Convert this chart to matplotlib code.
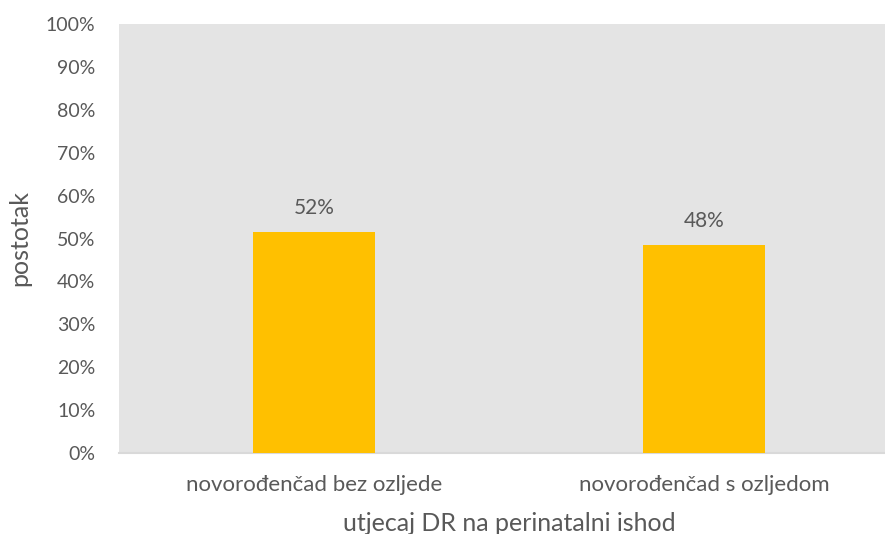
import matplotlib
matplotlib.use("Agg")
import matplotlib.pyplot as plt
from matplotlib.ticker import PercentFormatter

categories = ["novorođenčad bez ozljede", "novorođenčad s ozljedom"]
values = [0.515, 0.485]
value_labels = ["52%", "48%"]
y_ticks = [0.0, 0.1, 0.2, 0.3, 0.4, 0.5, 0.6, 0.7, 0.8, 0.9, 1.0]

TEXT = "#595959"
plt.rcParams["font.family"] = ["Lato", "DejaVu Sans"]

W, H = 885, 534
fig = plt.figure(figsize=(W / 100, H / 100), dpi=100)
ax = fig.add_axes([119 / W, (H - 453) / H, 780 / W, 429 / H])
ax.set_facecolor("#E4E4E4")

x = list(range(len(categories)))
ax.bar(x, values, width=0.315, color="#FFC000", zorder=3)
for xi, v, lab in zip(x, values, value_labels):
    ax.annotate(lab, (xi, v), xytext=(0, 10), textcoords="offset points",
                ha="center", va="bottom", fontsize=15, color=TEXT)

ax.set_xlim(-0.5, 1.5)
ax.set_ylim(0, 1)
ax.set_yticks(y_ticks)
ax.yaxis.set_major_formatter(PercentFormatter(1.0, decimals=0))
ax.set_xticks(x)
ax.set_xticklabels(categories)
ax.tick_params(axis="y", length=0, labelsize=14, colors=TEXT, pad=17)
ax.tick_params(axis="x", length=0, labelsize=16, colors=TEXT, pad=16)

for s in ["top", "right", "left"]:
    ax.spines[s].set_visible(False)
ax.spines["bottom"].set_color("#D9D9D9")
ax.spines["bottom"].set_linewidth(1.5)

ax.set_xlabel("utjecaj DR na perinatalni ishod", fontsize=18, color=TEXT, labelpad=12)
fig.text(20 / W, 1 - 238 / H, "postotak", rotation=90, ha="center", va="center",
         fontsize=18, color=TEXT)

fig.savefig("out.png", dpi=100)
